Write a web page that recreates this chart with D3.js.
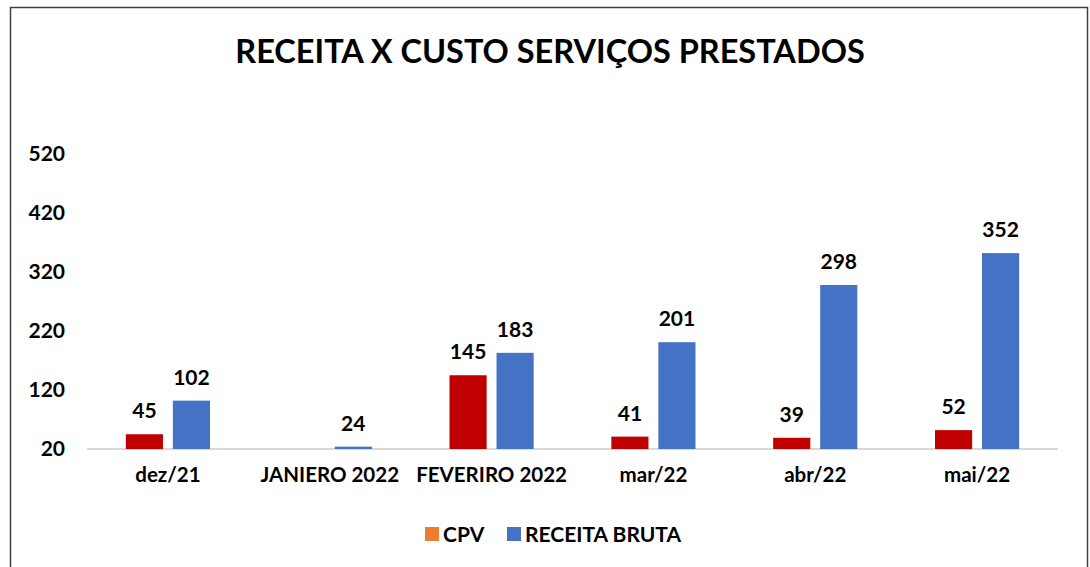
<!DOCTYPE html>
<html>
<head>
<meta charset="utf-8">
<script src="https://d3js.org/d3.v7.min.js"></script>
<style>
  body { margin: 0; background: #fff; }
  text { font-family: Lato, "Liberation Sans", sans-serif; font-weight: 700; fill: #000; }
</style>
</head>
<body>
<div id="graph"></div>
<script>

// data
var categories = ["dez/21", "JANIERO 2022", "FEVERIRO 2022", "mar/22", "abr/22", "mai/22"];
var cpv = [45, null, 145, 41, 39, 52];
var receita = [102, 24, 183, 201, 298, 352];
var yTicks = [20, 120, 220, 320, 420, 520];
var seriesNames = ["CPV", "RECEITA BRUTA"];

var W = 1090, H = 567;
var margin = {top: 154, right: 32, bottom: 118, left: 87};

var svg = d3.select("#graph").append("svg")
  .attr("width", W).attr("height", H);

// chart frame
svg.append("rect")
  .attr("x", 10.5).attr("y", 7.5)
  .attr("width", 1077).attr("height", 600)
  .attr("fill", "none").attr("stroke", "#404040").attr("stroke-width", 1.5);

var x = d3.scaleBand()
  .domain(categories)
  .range([margin.left, W - margin.right])
  .paddingInner(0.48).paddingOuter(0.24);

var xSub = d3.scaleBand()
  .domain(seriesNames)
  .range([0, x.bandwidth()])
  .paddingInner(0.21);

var y = d3.scaleLinear()
  .domain([20, 520])
  .range([H - margin.bottom, margin.top]);

// title
svg.append("text")
  .attr("x", 550).attr("y", 63)
  .attr("text-anchor", "middle")
  .attr("font-size", "32.5px")
  .attr("font-weight", 900)
  .text("RECEITA X CUSTO SERVIÇOS PRESTADOS");

// y axis labels
var yAxis = svg.append("g")
  .attr("transform", "translate(" + (margin.left - 22) + ",0)")
  .call(d3.axisLeft(y).tickValues(yTicks).tickSize(0).tickPadding(0));
yAxis.select(".domain").remove();
yAxis.selectAll("text")
  .attr("font-size", "21px")
  .attr("font-family", null);

// x axis
var xAxis = svg.append("g")
  .attr("transform", "translate(0," + y(20) + ")")
  .call(d3.axisBottom(x).tickSize(0).tickPadding(18));
xAxis.select(".domain").attr("stroke", "#d9d9d9").attr("stroke-width", 2)
  .attr("d", "M" + margin.left + ",0H" + (W - margin.right));
xAxis.selectAll("text")
  .attr("font-size", "20.5px")
  .attr("font-family", null);

var colors = {"CPV": "#c00000", "RECEITA BRUTA": "#4472c4"};

var rows = categories.map(function(c, i) {
  return [
    {cat: c, key: "CPV", v: cpv[i]},
    {cat: c, key: "RECEITA BRUTA", v: receita[i]}
  ];
});

var groups = svg.selectAll(".grp").data(rows).enter().append("g")
  .attr("class", "grp")
  .attr("transform", function(d) { return "translate(" + x(d[0].cat) + ",0)"; });

var bars = groups.selectAll("g.bar")
  .data(function(d) { return d.filter(function(e) { return e.v != null; }); })
  .enter().append("g").attr("class", "bar");

bars.append("rect")
  .attr("x", function(d) { return xSub(d.key); })
  .attr("width", xSub.bandwidth())
  .attr("y", function(d) { return y(d.v); })
  .attr("height", function(d) { return y(20) - y(d.v); })
  .attr("fill", function(d) { return colors[d.key]; });

bars.append("text")
  .attr("x", function(d) { return xSub(d.key) + xSub.bandwidth() / 2; })
  .attr("y", function(d) { return y(d.v) - 16; })
  .attr("text-anchor", "middle")
  .attr("font-size", "21px")
  .text(function(d) { return d.v; });

// legend (CPV swatch is orange in the original)
var legend = [
  {name: "CPV", color: "#ed7d31", x: 425},
  {name: "RECEITA BRUTA", color: "#4472c4", x: 507}
];
var lg = svg.selectAll(".lg").data(legend).enter().append("g")
  .attr("transform", function(d) { return "translate(" + d.x + ",527)"; });
lg.append("rect").attr("width", 14).attr("height", 14)
  .attr("fill", function(d) { return d.color; });
lg.append("text").attr("x", 18).attr("y", 14.5)
  .attr("font-size", "21px")
  .text(function(d) { return d.name; });

</script>
</body>
</html>
